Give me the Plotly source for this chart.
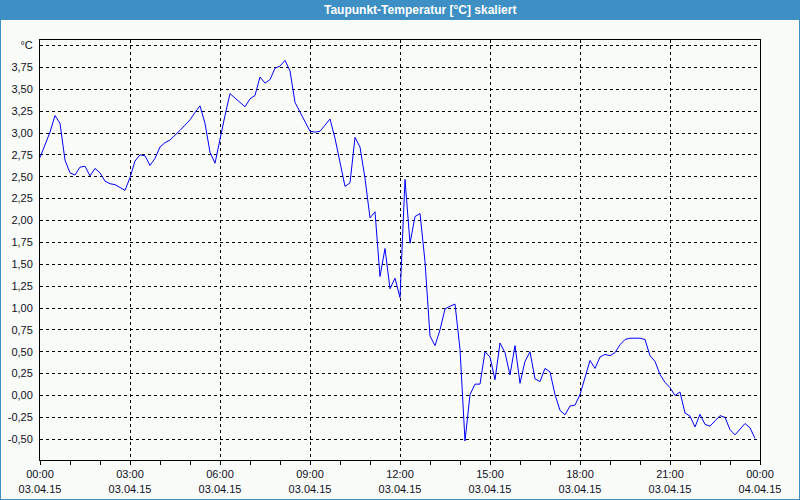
import pandas as pd
import plotly.graph_objects as go

# 10-minute samples of 03.04.15, 00:00 .. 23:50
times = pd.date_range("2015-04-03 00:00", periods=144, freq="10min")
values = [
    2.72, 2.86, 3.01, 3.20, 3.11, 2.69,
    2.545, 2.52, 2.61, 2.62, 2.51, 2.595,
    2.545, 2.45, 2.42, 2.41, 2.375, 2.345,
    2.49, 2.68, 2.75, 2.74, 2.63, 2.71,
    2.84, 2.89, 2.92, 2.97, 3.03, 3.09,
    3.15, 3.235, 3.31, 3.11, 2.78, 2.655,
    2.95, 3.20, 3.45, 3.40, 3.35, 3.30,
    3.39, 3.43, 3.64, 3.57, 3.61, 3.74,
    3.765, 3.83, 3.71, 3.35, 3.24, 3.125,
    3.02, 3.01, 3.02, 3.09, 3.16, 2.94,
    2.67, 2.39, 2.43, 2.95, 2.84, 2.48,
    2.03, 2.10, 1.36, 1.68, 1.22, 1.34,
    1.12, 2.47, 1.74, 2.045, 2.08, 1.53,
    0.68, 0.57, 0.75, 0.99, 1.02, 1.045,
    0.53, -0.52, 0.01, 0.13, 0.13, 0.50,
    0.44, 0.18, 0.60, 0.49, 0.235, 0.57,
    0.14, 0.39, 0.50, 0.19, 0.16, 0.31,
    0.27, 0.01, -0.17, -0.22, -0.12, -0.11,
    0.01, 0.22, 0.40, 0.31, 0.44, 0.47,
    0.455, 0.49, 0.58, 0.64, 0.655, 0.655,
    0.655, 0.64, 0.455, 0.39, 0.24, 0.15,
    0.09, 0.0, 0.04, -0.20, -0.235, -0.36,
    -0.215, -0.33, -0.35, -0.29, -0.23, -0.25,
    -0.39, -0.45, -0.39, -0.32, -0.37, -0.49,
]

y_tickvals = [-0.5, -0.25, 0.0, 0.25, 0.5, 0.75, 1.0, 1.25, 1.5, 1.75,
              2.0, 2.25, 2.5, 2.75, 3.0, 3.25, 3.5, 3.75, 4.0]
y_ticktext = [f"{v:.2f}".replace(".", ",") for v in y_tickvals[:-1]] + ["°C"]

title_text = "Taupunkt-Temperatur [°C] skaliert"

BG = "#fafcfa"
BAR = "#3d8fc4"
FONT = "Liberation Sans"

fig = go.Figure()
fig.add_trace(go.Scatter(
    x=times, y=values, mode="lines",
    line=dict(color="#0000ff", width=1),
    showlegend=False, hoverinfo="skip",
))

L, R, T, B = 40, 40, 40, 40
W, H = 800, 500
pw, ph = W - L - R, H - T - B

fig.update_layout(
    width=W, height=H,
    margin=dict(l=L, r=R, t=T, b=B, autoexpand=False),
    paper_bgcolor=BG, plot_bgcolor=BG,
    font=dict(family=FONT, size=11, color="#10101c"),
    xaxis=dict(
        type="date",
        range=["2015-04-03 00:00", "2015-04-04 00:00"],
        tick0="2015-04-03 00:00", dtick=3 * 3600 * 1000,
        tickformat="%H:%M<br>%d.%m.%y",
        ticks="outside", ticklen=4, tickcolor="black", tickwidth=1,
        minor=dict(dtick=3600 * 1000, ticks="outside", ticklen=4,
                   tickcolor="black", showgrid=False),
        showgrid=True, gridcolor="black", gridwidth=1, griddash="3px,3px",
        showline=True, linecolor="black", linewidth=1, mirror=True,
        zeroline=False, automargin=False,
    ),
    yaxis=dict(
        range=[-0.737, 4.063],
        tickvals=y_tickvals, ticktext=y_ticktext,
        ticks="", ticklabelstandoff=4,
        showgrid=True, gridcolor="black", gridwidth=1, griddash="3px,3px",
        showline=True, linecolor="black", linewidth=1, mirror=True,
        zeroline=False, automargin=False,
    ),
    shapes=[
        dict(type="rect", xref="paper", yref="paper", layer="below",
             x0=-L / pw, x1=1 + R / pw,
             y0=1 + (T - 20) / ph, y1=1 + T / ph,
             fillcolor=BAR, line=dict(width=0)),
        dict(type="rect", xref="paper", yref="paper", layer="above",
             x0=-L / pw, x1=1 + R / pw,
             y0=-B / ph, y1=1 + T / ph,
             fillcolor="rgba(0,0,0,0)", line=dict(color=BAR, width=2)),
    ],
    annotations=[
        dict(text=title_text, xref="paper", yref="paper",
             x=(420 - L) / pw, y=1 + (T - 10) / ph,
             xanchor="center", yanchor="middle", showarrow=False,
             font=dict(family=FONT, size=12, color="white", weight="bold")),
    ],
)

fig.write_html(
    "out.html",
    config={"displayModeBar": False},
    post_script="document.body.style.margin='0';document.body.style.overflow='hidden';",
)
